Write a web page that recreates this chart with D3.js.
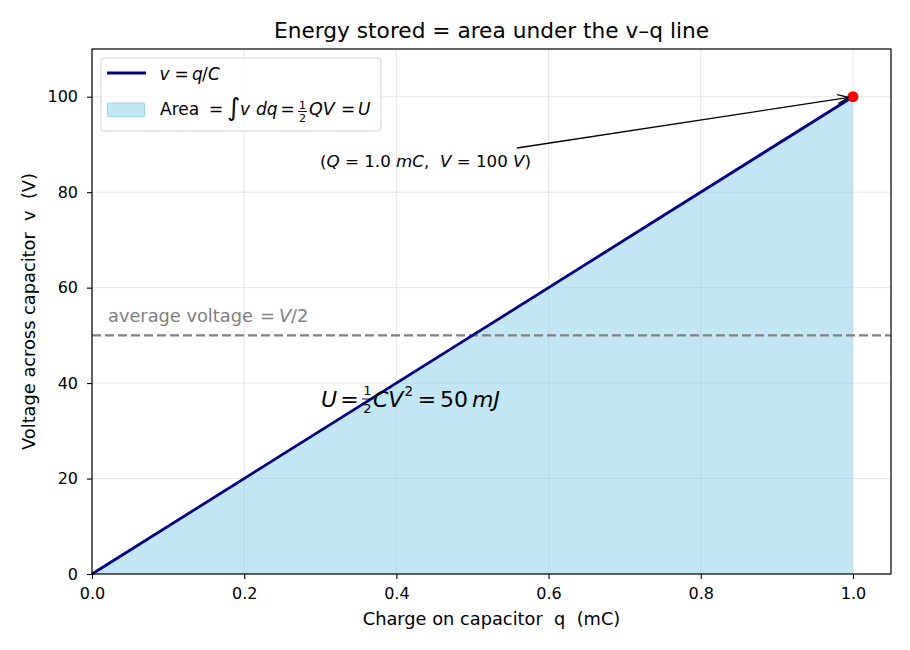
<!DOCTYPE html>
<html><head><meta charset="utf-8">
<script src="https://cdn.jsdelivr.net/npm/d3@7/dist/d3.min.js"></script>
<style>
body{margin:0;background:#fff;}
svg{font-family:"DejaVu Sans",sans-serif;}
</style></head>
<body><svg id="c" width="910" height="650"></svg>
<script>
const chargeValues = [0, 0.25, 0.5, 0.75, 1.0];      // mC
const voltageValues = [0, 25, 50, 75, 100];          // V
const xTicks = [0.0, 0.2, 0.4, 0.6, 0.8, 1.0];
const yTicks = [0, 20, 40, 60, 80, 100];
const averageVoltage = [50];
const endPoint = [{q: 1.0, v: 100}];

const svg = d3.select("#c");
const m = {l: 92, r: 891, t: 49, b: 574};
const x = d3.scaleLinear().domain([0, 1.05]).range([m.l, m.r]);
const y = d3.scaleLinear().domain([0, 110]).range([m.b, m.t]);
const data = chargeValues.map((q, i) => ({q, v: voltageValues[i]}));

// grid
svg.append("g").selectAll("line").data(xTicks).join("line")
  .attr("x1", d => x(d)).attr("x2", d => x(d)).attr("y1", m.t).attr("y2", m.b)
  .attr("stroke", "#b0b0b0").attr("stroke-opacity", 0.3).attr("stroke-width", 1);
svg.append("g").selectAll("line").data(yTicks).join("line")
  .attr("y1", d => y(d)).attr("y2", d => y(d)).attr("x1", m.l).attr("x2", m.r)
  .attr("stroke", "#b0b0b0").attr("stroke-opacity", 0.3).attr("stroke-width", 1);

// area
svg.append("path").datum(data)
  .attr("d", d3.area().x(d => x(d.q)).y0(y(0)).y1(d => y(d.v)))
  .attr("fill", "skyblue").attr("fill-opacity", 0.5);

// average line
svg.append("g").selectAll("line").data(averageVoltage).join("line")
  .attr("x1", m.l).attr("x2", m.r).attr("y1", d => y(d)).attr("y2", d => y(d))
  .attr("stroke", "gray").attr("stroke-width", 2.4).attr("stroke-dasharray", "9,4");

// line
svg.append("path").datum(data)
  .attr("d", d3.line().x(d => x(d.q)).y(d => y(d.v)))
  .attr("fill", "none").attr("stroke", "navy").attr("stroke-width", 2.8);

// point
svg.append("g").selectAll("circle").data(endPoint).join("circle")
  .attr("cx", d => x(d.q)).attr("cy", d => y(d.v)).attr("r", 5.5).attr("fill", "red");

// axes
const xa = svg.append("g").attr("transform", `translate(0,${m.b})`)
  .call(d3.axisBottom(x).tickValues(xTicks).tickFormat(d3.format(".1f")).tickSize(5).tickPadding(9));
const ya = svg.append("g").attr("transform", `translate(${m.l},0)`)
  .call(d3.axisLeft(y).tickValues(yTicks).tickFormat(d3.format("d")).tickSize(5).tickPadding(9));
[xa, ya].forEach(a => {
  a.select(".domain").remove();
  a.selectAll("text").attr("font-size", 16).attr("fill", "#000").attr("font-family", "DejaVu Sans");
  a.selectAll("line").attr("stroke", "#000").attr("stroke-width", 1.1);
});
svg.append("rect").attr("x", m.l).attr("y", m.t).attr("width", m.r - m.l).attr("height", m.b - m.t)
  .attr("fill", "none").attr("stroke", "#000").attr("stroke-width", 1.2);

// titles
svg.append("text").attr("x", (m.l + m.r) / 2).attr("y", 38).attr("text-anchor", "middle")
  .attr("font-size", 21.7).text("Energy stored = area under the v–q line");
svg.append("text").attr("x", (m.l + m.r) / 2).attr("y", 625).attr("text-anchor", "middle")
  .attr("font-size", 17.8).attr("xml:space", "preserve").text("Charge on capacitor  q  (mC)");
svg.append("text").attr("transform", `translate(35,${(m.t + m.b) / 2}) rotate(-90)`).attr("text-anchor", "middle")
  .attr("font-size", 17.8).attr("xml:space", "preserve").text("Voltage across capacitor  v  (V)");

// helper: place a text piece
function piece(g, xx, yy, txt, size, opts) {
  opts = opts || {};
  const t = g.append("text").attr("x", xx).attr("y", yy).attr("font-size", size)
    .attr("fill", opts.fill || "#000").attr("xml:space", "preserve").text(txt);
  if (opts.i) t.attr("font-style", "italic");
  if (opts.anchor) t.attr("text-anchor", opts.anchor);
  return t;
}
function frac(g, cx, y1, yBar, y2, halfW, size, fill) {
  piece(g, cx, y1, "1", size, {anchor: "middle", fill});
  g.append("line").attr("x1", cx - halfW).attr("x2", cx + halfW).attr("y1", yBar).attr("y2", yBar)
    .attr("stroke", fill || "#000").attr("stroke-width", 0.9);
  piece(g, cx, y2, "2", size, {anchor: "middle", fill});
}

// average voltage label
const av = svg.append("g");
piece(av, 108, 322, "average voltage", 17.8, {fill: "gray"});
piece(av, 267.5, 322, "=", 17.8, {fill: "gray", anchor: "middle"});
piece(av, 279, 322, "V", 17.8, {fill: "gray", i: 1});
piece(av, 291, 322, "/2", 17.8, {fill: "gray"});

// annotation arrow + text
svg.append("defs").append("marker").attr("id", "ah").attr("viewBox", "0 0 12 10")
  .attr("refX", 11.5).attr("refY", 5).attr("markerWidth", 12).attr("markerHeight", 10)
  .attr("markerUnits", "userSpaceOnUse").attr("orient", "auto")
  .append("path").attr("d", "M0,0.5 L11.5,5 L0,9.5").attr("fill", "none").attr("stroke", "#000").attr("stroke-width", 1.3);
svg.append("line").attr("x1", 517).attr("y1", 148).attr("x2", x(1.0) - 4).attr("y2", y(100) + 0.6)
  .attr("stroke", "#000").attr("stroke-width", 1.3).attr("marker-end", "url(#ah)");
const an = svg.append("text").attr("x", 320).attr("y", 167).attr("font-size", 16.7).attr("xml:space", "preserve");
[["(",0],["Q",1],[" = 1.0 ",0],["mC",1],[",  ",0],["V",1],[" = 100 ",0],["V",1],[")",0]].forEach(p => {
  const s = an.append("tspan").text(p[0]); if (p[1]) s.attr("font-style", "italic");
});

// energy formula
const ef = svg.append("g");
piece(ef, 321, 407, "U", 22, {i: 1});
piece(ef, 349.5, 407, "=", 22, {anchor: "middle"});
frac(ef, 367.5, 395, 399, 413, 5.5, 13);
piece(ef, 373, 407, "CV", 22, {i: 1});
piece(ef, 404.5, 396, "2", 13.5);
piece(ef, 427, 407, "=", 22, {anchor: "middle"});
piece(ef, 440, 407, "50", 22);
piece(ef, 472, 407, "mJ", 22, {i: 1});

// legend
const lg = svg.append("g");
lg.append("rect").attr("x", 101).attr("y", 58).attr("width", 280).attr("height", 73).attr("rx", 3)
  .attr("fill", "#fff").attr("fill-opacity", 0.8).attr("stroke", "#d0d0d0").attr("stroke-width", 1);
lg.append("line").attr("x1", 107).attr("x2", 146).attr("y1", 73).attr("y2", 73).attr("stroke", "navy").attr("stroke-width", 2.8);
lg.append("rect").attr("x", 107.5).attr("y", 103).attr("width", 37).attr("height", 13.5)
  .attr("fill", "skyblue").attr("fill-opacity", 0.5).attr("stroke", "skyblue").attr("stroke-opacity", 0.7);
piece(lg, 159.5, 80, "v", 17, {i: 1});
piece(lg, 181.5, 80, "=", 17, {anchor: "middle"});
piece(lg, 192, 80, "q", 17, {i: 1});
piece(lg, 202, 80, "/", 17);
piece(lg, 208, 80, "C", 17, {i: 1});

piece(lg, 160, 115, "Area", 17);
piece(lg, 216, 115, "=", 17, {anchor: "middle"});
piece(lg, 233.5, 116, "∫", 25, {anchor: "middle"});
piece(lg, 240, 115, "v", 17, {i: 1});
piece(lg, 256, 115, "dq", 17, {i: 1});
piece(lg, 287.5, 115, "=", 17, {anchor: "middle"});
frac(lg, 302.5, 109, 111.5, 122, 4.5, 11);
piece(lg, 309, 115, "QV", 17.5, {i: 1});
piece(lg, 348, 115, "=", 17, {anchor: "middle"});
piece(lg, 358, 115, "U", 17, {i: 1});
</script></body></html>
